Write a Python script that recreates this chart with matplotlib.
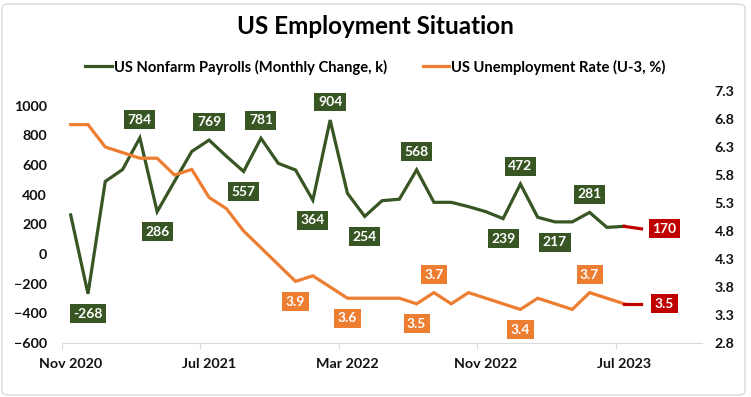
"""US Employment Situation: nonfarm payrolls vs unemployment rate (dual axis)."""
import matplotlib
matplotlib.use("Agg")
import matplotlib.pyplot as plt
import numpy as np
import pandas as pd
from matplotlib.lines import Line2D
from matplotlib.patches import FancyBboxPatch

plt.rcParams["font.family"] = ["Lato", "DejaVu Sans"]

# monthly data, Nov 2020 .. Aug 2023
MONTHS = pd.date_range("2020-11-01", periods=34, freq="MS")
PAYROLLS = [264, -268, 490, 570, 784, 286, 490, 692, 769, 660, 557, 781,
            612, 567, 364, 904, 410, 254, 360, 370, 568, 349, 349, 320,
            286, 239, 472, 248, 217, 217, 281, 180, 187, 170]
UNRATE = [6.7, 6.7, 6.3, 6.2, 6.1, 6.1, 5.8, 5.9, 5.4, 5.2, 4.8, 4.5,
          4.2, 3.9, 4.0, 3.8, 3.6, 3.6, 3.6, 3.6, 3.5, 3.7, 3.5, 3.7,
          3.6, 3.5, 3.4, 3.6, 3.5, 3.4, 3.7, 3.6, 3.5, 3.5]
TICK_LABELS = ["Nov 2020", "Jul 2021", "Mar 2022", "Nov 2022", "Jul 2023"]

# which points get a data label and where (a=above, b=below, r=right)
PAY_LABELS = {1: "b", 4: "a", 5: "b", 8: "a", 10: "b", 11: "a", 14: "b", 15: "a",
              17: "b", 20: "a", 25: "b", 26: "a", 28: "b", 30: "a", 33: "r"}
UR_LABELS = {13: "b", 16: "b", 20: "b", 21: "a", 26: "b", 30: "a", 33: "r"}

GREEN = "#375623"
ORANGE = "#ED7D31"
RED = "#C00000"
GRID = "#D9D9D9"
OFFS = {"a": (0, 13), "b": (0, -14.5), "r": (16.5, 0)}


def label(ax, x, y, txt, where, color):
    ax.annotate(txt, (x, y), xytext=OFFS[where], textcoords="offset points",
                ha="center", va="center", color="white", fontsize=10,
                fontweight="bold", annotation_clip=False, zorder=6,
                bbox=dict(boxstyle="square,pad=0.25", fc=color, ec="none"))


def main():
    x = np.arange(len(MONTHS))
    fig = plt.figure(figsize=(7.51, 3.97), dpi=100)
    ax = fig.add_axes([0.0826, 0.136, 0.8522, 0.6348])
    ax2 = ax.twinx()

    n = len(x) - 1
    ax.plot(x[:n], PAYROLLS[:n], color=GREEN, lw=2.3, solid_joinstyle="miter", zorder=3)
    ax.plot(x[n - 1:], PAYROLLS[n - 1:], color=RED, lw=2.3, zorder=3)
    ax2.plot(x[:n], UNRATE[:n], color=ORANGE, lw=2.3, solid_joinstyle="miter", zorder=3)
    ax2.plot(x[n - 1:], UNRATE[n - 1:], color=RED, lw=2.3, zorder=3)

    for i, w in PAY_LABELS.items():
        label(ax, x[i], PAYROLLS[i], f"{PAYROLLS[i]}", w, RED if i == n else GREEN)
    for i, w in UR_LABELS.items():
        label(ax2, x[i], UNRATE[i], f"{UNRATE[i]:.1f}", w, RED if i == n else ORANGE)

    ax.set_xlim(-0.5, 36.5)
    ax.set_ylim(-600, 1100)
    ax.set_yticks(np.arange(-600, 1001, 200))
    ax2.set_ylim(2.8, 7.3)
    ax2.set_yticks(np.arange(2.8, 7.31, 0.5))
    ax2.set_yticklabels([f"{v:.1f}" for v in np.arange(2.8, 7.31, 0.5)])

    ax.set_xticks(x[::8])
    ax.set_xticklabels(TICK_LABELS)
    ax.set_xticks(x[::8] - 0.5, minor=True)
    ax.tick_params(axis="x", which="major", length=0, pad=10.5)
    ax.tick_params(axis="x", which="minor", length=4, color=GRID, width=0.8)
    ax.tick_params(axis="y", length=0, pad=11)
    ax2.tick_params(axis="y", length=0, pad=9)
    for a in (ax, ax2):
        for s in ("top", "left", "right"):
            a.spines[s].set_visible(False)
        a.spines["bottom"].set_color(GRID)
        for t in a.get_xticklabels() + a.get_yticklabels():
            t.set_fontweight("bold")
            t.set_fontsize(10.3)
            t.set_color("#111111")
    ax2.spines["bottom"].set_visible(False)

    fig.text(0.5, 1 - 26 / 397, "US Employment Situation", ha="center", va="center",
             fontsize=17.5, fontweight="bold", color="black")
    handles = [Line2D([], [], color=GREEN, lw=2.3),
               Line2D([], [], color=ORANGE, lw=2.3)]
    fig.legend(handles, ["US Nonfarm Payrolls (Monthly Change, k)",
                         "US Unemployment Rate (U-3, %)"],
               loc="center", bbox_to_anchor=(0.5, 1 - 67 / 397), ncol=2, frameon=False,
               handlelength=1.8, handletextpad=0.15, columnspacing=2.4,
               prop=dict(size=10.6, weight="bold"))

    fig.patches.append(FancyBboxPatch((2 / 751, 2 / 397), 743 / 751, 391 / 397,
                                      boxstyle="round,pad=0,rounding_size=0.01",
                                      transform=fig.transFigure, fc="none",
                                      ec=GRID, lw=1))
    fig.savefig("out.png", dpi=100)


if __name__ == "__main__":
    main()
